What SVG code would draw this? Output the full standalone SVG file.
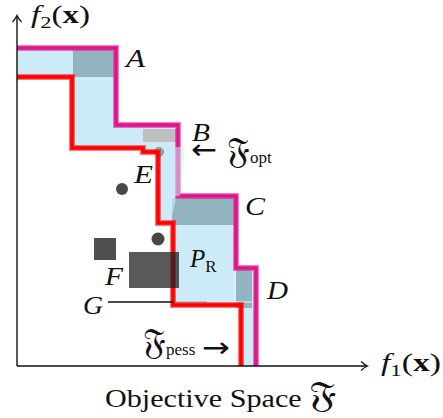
<svg xmlns="http://www.w3.org/2000/svg" width="443" height="418" viewBox="0 0 443 418">
<style>
.lbl{font-family:"Liberation Serif","DejaVu Serif",serif;font-style:italic;font-size:25px;fill:#111}
.up{font-family:"Liberation Serif","DejaVu Serif",serif;font-size:25px;fill:#111}
.frak{font-family:"DejaVu Serif","DejaVu Sans","Noto Sans",serif;font-style:normal;font-size:36px}
.sub{font-family:"Liberation Serif","DejaVu Serif",serif;font-style:normal;font-size:17px}
.arr{font-family:"DejaVu Sans",sans-serif;font-size:28px;fill:#111}
.axis{stroke:#111;stroke-width:1.4;fill:none}
.dark{fill:#92b4c1}
</style>
<defs>
<marker id="ah" markerWidth="12" markerHeight="12" refX="0" refY="0" viewBox="-8 -6 10 12" orient="auto" markerUnits="userSpaceOnUse">
<path d="M-6,-4.5 Q-2,-1 0.5,0 Q-2,1 -6,4.5" fill="none" stroke="#111" stroke-width="1.3"/>
</marker>
</defs>
<g id="region">
<polygon points="17,48 116,48 116,125 178,125 178,196 236,196 236,268 256,268 256,366 241,366 241,305 173,305 173,223 158,223 158,152 143,152 143,148 72,148 72,77 17,77" fill="#cdebf7"/>
<rect class="dark" x="73" y="50" width="41" height="27"/>
<rect x="143" y="129" width="33" height="13" fill="#c0c0c0"/>
<rect class="dark" x="172" y="198" width="62" height="27"/>
<polygon points="172,198 176,198 172,216" fill="#b3d9e8"/>
<rect class="dark" x="236" y="270" width="16" height="38"/>
<line x1="173" y1="302" x2="207" y2="302" stroke="#9aa9ae" stroke-width="1.2"/>
<polyline points="207,302 256,302" stroke="#fff" stroke-opacity="0.8" stroke-width="1" fill="none"/>
<line x1="235" y1="268" x2="235" y2="308" stroke="#fff" stroke-opacity="0.6" stroke-width="1"/>
<circle cx="159" cy="152" r="4.5" fill="#93b3c0" stroke="#6d8d9a" stroke-width="1"/>
</g>
<g id="fronts">
<path d="M17,77 H72 V148 H143 V152 H158 V223 H173 V305 H241 V366" fill="none" stroke="#ff0000" stroke-opacity="0.55" stroke-width="6"/>
<path d="M17,77 H72 V148 H143 V152 H158 V223 H173 V305 H241 V366" fill="none" stroke="#ff0000" stroke-width="3.5"/>
<path d="M17,48 H116 V125 H178 V196 H236 V268 H256 V366" fill="none" stroke="#e2128b" stroke-opacity="0.55" stroke-width="6"/>
<path d="M17,48 H116 V125 H178 V196 H236 V268 H256 V366" fill="none" stroke="#e2128b" stroke-width="3.5"/>
<polygon points="175,147 185,147 180,196 175,196" fill="#cdebf7" fill-opacity="0.55"/>
</g>
<g id="points">
<circle cx="122" cy="189" r="6" fill="#474747"/>
<circle cx="158" cy="239" r="6.5" fill="#474747"/>
<rect x="94" y="238" width="22" height="22" fill="#4f4f4f"/>
<rect x="129" y="252" width="50" height="36" fill="#222" fill-opacity="0.75"/>
<line x1="108" y1="302" x2="173" y2="302" stroke="#111" stroke-width="1.6"/>
</g>
<g id="axes">
<line class="axis" x1="17" y1="366" x2="17" y2="16" marker-end="url(#ah)"/>
<line class="axis" x1="17" y1="366" x2="367" y2="366" marker-end="url(#ah)"/>
</g>
<g id="labels">
<text class="lbl" x="126" y="67" textLength="19" lengthAdjust="spacingAndGlyphs">A</text>
<text class="lbl" x="192" y="141" textLength="18" lengthAdjust="spacingAndGlyphs">B</text>
<text class="arr" x="191" y="159" textLength="26" lengthAdjust="spacingAndGlyphs">←</text>
<text class="up" x="227" y="163"><tspan class="frak">𝔉</tspan><tspan class="sub" dy="0">opt</tspan></text>
<text class="lbl" x="134" y="183" textLength="19" lengthAdjust="spacingAndGlyphs">E</text>
<text class="lbl" x="245" y="215" textLength="20" lengthAdjust="spacingAndGlyphs">C</text>
<text class="lbl" x="190" y="267">P<tspan class="sub" font-style="italic" dy="5">R</tspan></text>
<text class="lbl" x="267" y="299" textLength="21" lengthAdjust="spacingAndGlyphs">D</text>
<text class="lbl" x="105" y="285" textLength="18" lengthAdjust="spacingAndGlyphs">F</text>
<text class="lbl" x="83" y="314" textLength="20" lengthAdjust="spacingAndGlyphs">G</text>
<text class="up" x="143" y="354"><tspan class="frak">𝔉</tspan><tspan class="sub" dy="1">pess</tspan></text>
<text class="arr" x="202" y="357" textLength="28" lengthAdjust="spacingAndGlyphs">→</text>
<text class="up" x="31" y="23" font-size="27" textLength="59" lengthAdjust="spacingAndGlyphs"><tspan font-style="italic">f</tspan><tspan class="sub" font-size="18" dy="5">2</tspan><tspan dy="-5">(</tspan><tspan font-weight="bold">x</tspan>)</text>
<text class="up" x="381" y="371" font-size="27" textLength="60" lengthAdjust="spacingAndGlyphs"><tspan font-style="italic">f</tspan><tspan class="sub" font-size="18" dy="5">1</tspan><tspan dy="-5">(</tspan><tspan font-weight="bold">x</tspan>)</text>
<text class="up" x="105" y="407" font-size="26" textLength="232" lengthAdjust="spacingAndGlyphs">Objective Space <tspan class="frak" font-size="30">𝔉</tspan></text>
</g>
</svg>
